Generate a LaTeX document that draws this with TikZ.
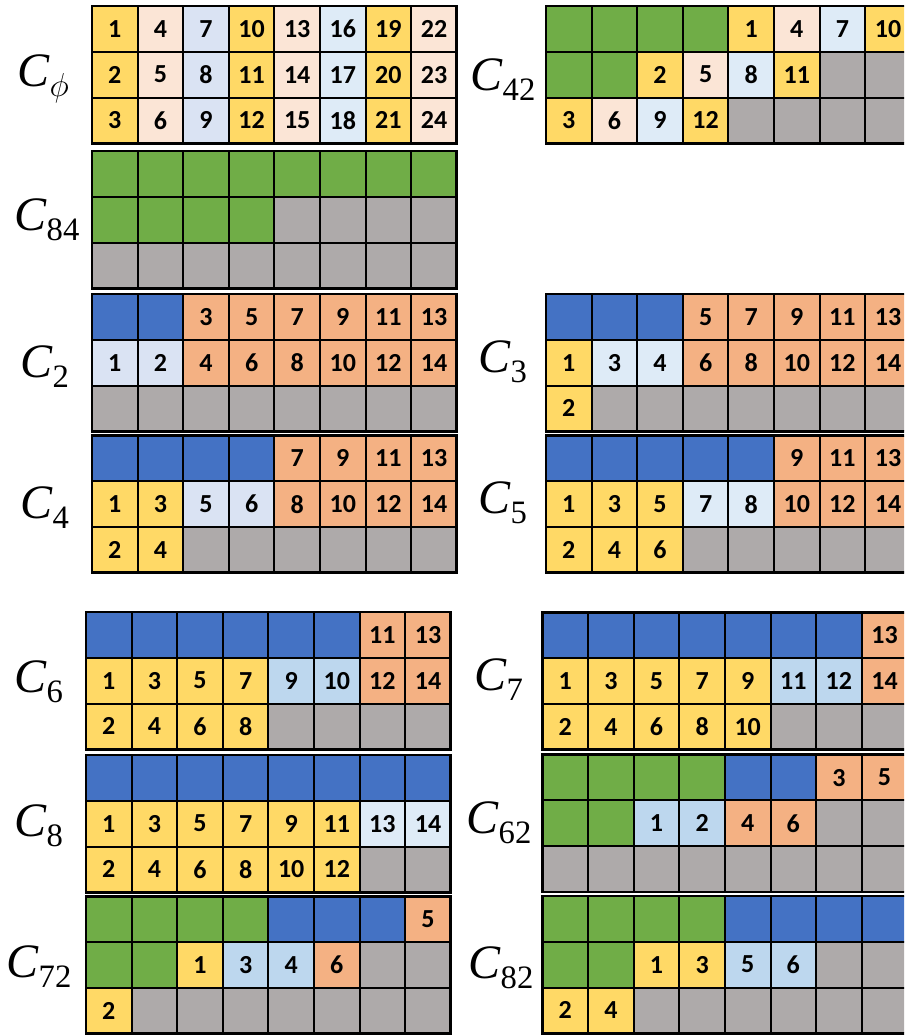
\documentclass[tikz,border=0pt]{standalone}
\usepackage{fontspec}
\newfontfamily\numfont{Carlito}
\newfontfamily\labfont{Liberation Serif}
\definecolor{cY}{HTML}{FFD966}
\definecolor{cP}{HTML}{FBE5D6}
\definecolor{cB}{HTML}{DAE3F3}
\definecolor{cL}{HTML}{DEEBF7}
\definecolor{cM}{HTML}{BDD7EE}
\definecolor{cO}{HTML}{F4B183}
\definecolor{cN}{HTML}{4472C4}
\definecolor{cG}{HTML}{70AD47}
\definecolor{cR}{HTML}{AEAAAA}
\def\gcw{45.6}\def\gch{45.75}
\tikzset{
 cell/.style={minimum width=34.2pt, minimum height=34.31pt, inner sep=0pt, outer sep=0pt,
   font=\numfont\bfseries\fontsize{19.5}{19.5}\selectfont},
 gridline/.style={line width=1.5pt},
 gridframe/.style={line width=2.1pt},
 lab/.style={anchor=base west, inner sep=0pt, font=\labfont\fontsize{36}{36}\selectfont}
}
\newcommand\clab[1]{\textit{C}\raisebox{-7.5pt}{\fontsize{24.5}{24.5}\selectfont #1}}
\newcommand\cellrow[5]{%
  \foreach[count=\i] \cellcol/\celltxt in {#5}{
    \node[cell,fill=\cellcol] (#1-#4-\i) at ({#2+(\i-0.5)*\gcw},{#3+(#4-0.5)*\gch}) {\raisebox{-1.3pt}{\celltxt}};
  }}
\newcommand\cellgrid[6]{%
  \cellrow{#1}{#2}{#3}{1}{#4}
  \cellrow{#1}{#2}{#3}{2}{#5}
  \cellrow{#1}{#2}{#3}{3}{#6}
  \foreach \i in {1,...,7}{\draw[gridline] (#1-1-\i.north east) -- (#1-3-\i.south east);}
  \foreach \j in {1,2}{\draw[gridline] (#1-\j-1.south west) -- (#1-\j-8.south east);}
  \draw[gridframe] (#1-1-1.north west) rectangle (#1-3-8.south east);
}
\begin{document}
\begin{tikzpicture}[x={(0.75pt,0)},y={(0,-0.75pt)}]
\clip (0,0) rectangle (904,1036);
\fill[white] (0,0) rectangle (904,1036);
% left column
\cellgrid{phi}{92}{6}
 {cY/1,cP/4,cB/7,cY/10,cP/13,cL/16,cY/19,cP/22}
 {cY/2,cP/5,cB/8,cY/11,cP/14,cL/17,cY/20,cP/23}
 {cY/3,cP/6,cB/9,cY/12,cP/15,cL/18,cY/21,cP/24}
\cellgrid{c84}{92}{151}
 {cG/{},cG/{},cG/{},cG/{},cG/{},cG/{},cG/{},cG/{}}
 {cG/{},cG/{},cG/{},cG/{},cR/{},cR/{},cR/{},cR/{}}
 {cR/{},cR/{},cR/{},cR/{},cR/{},cR/{},cR/{},cR/{}}
\cellgrid{c2}{92}{294}
 {cN/{},cN/{},cO/3,cO/5,cO/7,cO/9,cO/11,cO/13}
 {cB/1,cB/2,cO/4,cO/6,cO/8,cO/10,cO/12,cO/14}
 {cR/{},cR/{},cR/{},cR/{},cR/{},cR/{},cR/{},cR/{}}
\cellgrid{c4}{92}{435.5}
 {cN/{},cN/{},cN/{},cN/{},cO/7,cO/9,cO/11,cO/13}
 {cY/1,cY/3,cB/5,cB/6,cO/8,cO/10,cO/12,cO/14}
 {cY/2,cY/4,cR/{},cR/{},cR/{},cR/{},cR/{},cR/{}}
\cellgrid{c6}{86}{612}
 {cN/{},cN/{},cN/{},cN/{},cN/{},cN/{},cO/11,cO/13}
 {cY/1,cY/3,cY/5,cY/7,cM/9,cM/10,cO/12,cO/14}
 {cY/2,cY/4,cY/6,cY/8,cR/{},cR/{},cR/{},cR/{}}
\cellgrid{c8}{86}{755}
 {cN/{},cN/{},cN/{},cN/{},cN/{},cN/{},cN/{},cN/{}}
 {cY/1,cY/3,cY/5,cY/7,cY/9,cY/11,cL/13,cL/14}
 {cY/2,cY/4,cY/6,cY/8,cY/10,cY/12,cR/{},cR/{}}
\cellgrid{c72}{86}{896.5}
 {cG/{},cG/{},cG/{},cG/{},cN/{},cN/{},cN/{},cO/5}
 {cG/{},cG/{},cY/1,cM/3,cM/4,cO/6,cR/{},cR/{}}
 {cY/2,cR/{},cR/{},cR/{},cR/{},cR/{},cR/{},cR/{}}
% right column
\cellgrid{c42}{546}{6}
 {cG/{},cG/{},cG/{},cG/{},cY/1,cP/4,cL/7,cY/10}
 {cG/{},cG/{},cY/2,cP/5,cL/8,cY/11,cR/{},cR/{}}
 {cY/3,cP/6,cL/9,cY/12,cR/{},cR/{},cR/{},cR/{}}
\cellgrid{c3}{546}{294}
 {cN/{},cN/{},cN/{},cO/5,cO/7,cO/9,cO/11,cO/13}
 {cY/1,cL/3,cL/4,cO/6,cO/8,cO/10,cO/12,cO/14}
 {cY/2,cR/{},cR/{},cR/{},cR/{},cR/{},cR/{},cR/{}}
\cellgrid{c5}{546}{435.5}
 {cN/{},cN/{},cN/{},cN/{},cN/{},cO/9,cO/11,cO/13}
 {cY/1,cY/3,cY/5,cL/7,cL/8,cO/10,cO/12,cO/14}
 {cY/2,cY/4,cY/6,cR/{},cR/{},cR/{},cR/{},cR/{}}
\cellgrid{c7}{542.5}{612.3}
 {cN/{},cN/{},cN/{},cN/{},cN/{},cN/{},cN/{},cO/13}
 {cY/1,cY/3,cY/5,cY/7,cY/9,cM/11,cM/12,cO/14}
 {cY/2,cY/4,cY/6,cY/8,cY/10,cR/{},cR/{},cR/{}}
\cellgrid{c62}{542.5}{754.7}
 {cG/{},cG/{},cG/{},cG/{},cN/{},cN/{},cO/3,cO/5}
 {cG/{},cG/{},cM/1,cM/2,cO/4,cO/6,cR/{},cR/{}}
 {cR/{},cR/{},cR/{},cR/{},cR/{},cR/{},cR/{},cR/{}}
\cellgrid{c82}{542.5}{896}
 {cG/{},cG/{},cG/{},cG/{},cN/{},cN/{},cN/{},cN/{}}
 {cG/{},cG/{},cY/1,cY/3,cM/5,cM/6,cR/{},cR/{}}
 {cY/2,cY/4,cR/{},cR/{},cR/{},cR/{},cR/{},cR/{}}
% labels
\node[lab] (lphi) at (17,86) {\clab{$\phi$}};
\node[lab] (l84) at (14,230) {\clab{84}};
\node[lab] (l2) at (20,377) {\clab{2}};
\node[lab] (l4) at (20,518) {\clab{4}};
\node[lab] (l6) at (14,692) {\clab{6}};
\node[lab] (l8) at (14,836) {\clab{8}};
\node[lab] (l72) at (6,977) {\clab{72}};
\node[lab] (l42) at (470,90) {\clab{42}};
\node[lab] (l3) at (478,372) {\clab{3}};
\node[lab] (l5) at (478,513) {\clab{5}};
\node[lab] (l7) at (474,690) {\clab{7}};
\node[lab] (l62) at (466,833) {\clab{62}};
\node[lab] (l82) at (468,978) {\clab{82}};
\end{tikzpicture}
\end{document}
